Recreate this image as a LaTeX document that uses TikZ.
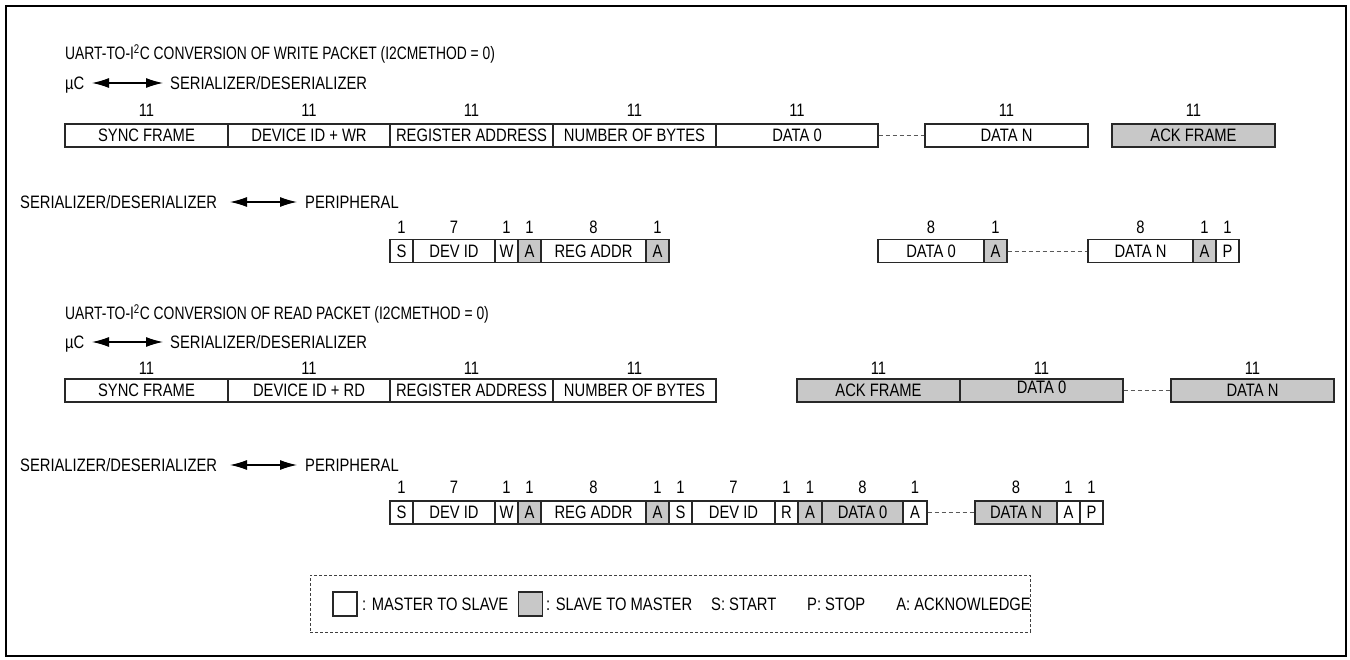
\documentclass[tikz,border=0pt]{standalone}
\usepackage{fontspec}
\setmainfont{Liberation Sans}[FakeStretch=0.82]
\newfontfamily\ttlfont{Liberation Sans}[FakeStretch=0.77]
\usetikzlibrary{arrows.meta}
\definecolor{cellgray}{RGB}{200,200,200}
\definecolor{edge}{RGB}{40,40,40}
\newcommand\fld[6]{%
  \node[#4, minimum width={(#3-#2)*1pt}] (#1) at ({(#2+#3)/2},\rowy) {#5};
  \node[num] (#1n) at ({(#2+#3)/2},\numy) {#6};}
\begin{document}
\begin{tikzpicture}[x=1pt,y=-1pt,
  font=\fontsize{18}{20}\selectfont,
  cell/.style={draw=edge, line width=1.1pt, fill=white, inner sep=0pt,
    minimum height=23pt, text height=12.9pt, text depth=0pt},
  gcell/.style={cell, fill=cellgray},
  num/.style={inner sep=0pt, text height=12.9pt, text depth=0pt},
  lbl/.style={inner sep=0pt, anchor=west, text height=12.9pt, text depth=0pt},
  ttl/.style={lbl, font=\fontsize{18}{20}\ttlfont},
  link/.style={draw=black!65, line width=0.9pt, dash pattern=on 4pt off 3pt},
  biarrow/.style={{Latex[length=17pt,width=10pt]}-{Latex[length=17pt,width=10pt]}, line width=1.2pt},
  legbox/.style={draw=black!75, line width=0.8pt, dash pattern=on 3pt off 2pt, inner sep=0pt},
  swatch/.style={draw=edge, line width=1.1pt, inner sep=0pt, minimum width=24pt, minimum height=24pt}
]
\useasboundingbox (0,0) rectangle (1350,660);
\draw[line width=2pt] (6,6) rectangle (1346,656);

% ---------- Row 1: write packet, uC side
\node[ttl] (t1) at (65,53) {UART-TO-I\textsuperscript{2}C CONVERSION OF WRITE PACKET (I2CMETHOD = 0)};
\node[lbl] (mu1) at (65,83) {µC};
\node[lbl] (sd1) at (170,83) {SERIALIZER/DESERIALIZER};
\coordinate (a1l) at (92,83); \coordinate (a1r) at (163,83);
\draw[biarrow] (a1l) -- (a1r);
\def\rowy{135.5}\def\numy{110}
\fld{wa}{65}{228}{cell}{SYNC FRAME}{11}
\fld{wb}{228}{390}{cell}{DEVICE ID + WR}{11}
\fld{wc}{390}{553}{cell}{REGISTER ADDRESS}{11}
\fld{wd}{553}{716}{cell}{NUMBER OF BYTES}{11}
\fld{we}{716}{878}{cell}{DATA 0}{11}
\fld{wf}{925}{1088}{cell}{DATA N}{11}
\fld{wg}{1112}{1275}{gcell}{ACK FRAME}{11}
\draw[link] (we.east) -- (wf.west);

% ---------- Row 2: write packet, peripheral side
\node[lbl] (sd2) at (20,202) {SERIALIZER/DESERIALIZER};
\node[lbl] (pe2) at (305,202) {PERIPHERAL};
\coordinate (a2l) at (230,202); \coordinate (a2r) at (297,202);
\draw[biarrow] (a2l) -- (a2r);
\def\rowy{251}\def\numy{227}
\fld{pa}{390}{413}{cell}{S}{1}
\fld{pb}{413}{495}{cell}{DEV ID}{7}
\fld{pc}{495}{518}{cell}{W}{1}
\fld{pd}{518}{541}{gcell}{A}{1}
\fld{pe}{541}{646}{cell}{REG ADDR}{8}
\fld{pf}{646}{669}{gcell}{A}{1}
\fld{pg}{878}{984}{cell}{DATA 0}{8}
\fld{ph}{984}{1007}{gcell}{A}{1}
\fld{pi}{1088}{1193}{cell}{DATA N}{8}
\fld{pj}{1193}{1216}{gcell}{A}{1}
\fld{pk}{1216}{1239}{cell}{P}{1}
\draw[link] (ph.east) -- (pi.west);

% ---------- Row 3: read packet, uC side
\node[ttl] (t3) at (65,313) {UART-TO-I\textsuperscript{2}C CONVERSION OF READ PACKET (I2CMETHOD = 0)};
\node[lbl] (mu3) at (65,342) {µC};
\node[lbl] (sd3) at (170,342) {SERIALIZER/DESERIALIZER};
\coordinate (a3l) at (92,342); \coordinate (a3r) at (163,342);
\draw[biarrow] (a3l) -- (a3r);
\def\rowy{390.5}\def\numy{368}
\fld{ra}{65}{228}{cell}{SYNC FRAME}{11}
\fld{rb}{228}{390}{cell}{DEVICE ID + RD}{11}
\fld{rc}{390}{553}{cell}{REGISTER ADDRESS}{11}
\fld{rd}{553}{716}{cell}{NUMBER OF BYTES}{11}
\fld{re}{797}{960}{gcell}{ACK FRAME}{11}
\fld{rf}{960}{1123}{gcell,text depth=6pt}{DATA 0}{11}
\fld{rg}{1171}{1334}{gcell}{DATA N}{11}
\draw[link] (rf.east) -- (rg.west);

% ---------- Row 4: read packet, peripheral side
\node[lbl] (sd4) at (20,465) {SERIALIZER/DESERIALIZER};
\node[lbl] (pe4) at (305,465) {PERIPHERAL};
\coordinate (a4l) at (230,465); \coordinate (a4r) at (297,465);
\draw[biarrow] (a4l) -- (a4r);
\def\rowy{512.5}\def\numy{487}
\fld{qa}{390}{413}{cell}{S}{1}
\fld{qb}{413}{495}{cell}{DEV ID}{7}
\fld{qc}{495}{518}{cell}{W}{1}
\fld{qd}{518}{541}{gcell}{A}{1}
\fld{qe}{541}{646}{cell}{REG ADDR}{8}
\fld{qf}{646}{669}{gcell}{A}{1}
\fld{qg}{669}{692}{cell}{S}{1}
\fld{qh}{692}{775}{cell}{DEV ID}{7}
\fld{qi}{775}{798}{cell}{R}{1}
\fld{qj}{798}{822}{gcell}{A}{1}
\fld{qk}{822}{903}{gcell}{DATA 0}{8}
\fld{ql}{903}{927}{cell}{A}{1}
\fld{qm}{975}{1057}{gcell}{DATA N}{8}
\fld{qn}{1057}{1080}{cell}{A}{1}
\fld{qo}{1080}{1103}{cell}{P}{1}
\draw[link] (ql.east) -- (qm.west);

% ---------- Legend
\node[legbox, minimum width=720pt, minimum height=57pt] (leg) at (670,603.5) {};
\node[swatch, fill=white] (sw1) at (345,604) {};
\node[lbl] (lg1) at (362,604) {: MASTER TO SLAVE};
\node[swatch, fill=cellgray] (sw2) at (530.5,604) {};
\node[lbl] (lg2) at (546,604) {: SLAVE TO MASTER};
\node[lbl] (lg3) at (711,604) {S: START};
\node[lbl] (lg4) at (807,604) {P: STOP};
\node[lbl, anchor=east] (lg5) at (1031,604) {A: ACKNOWLEDGE};
\end{tikzpicture}
\end{document}
